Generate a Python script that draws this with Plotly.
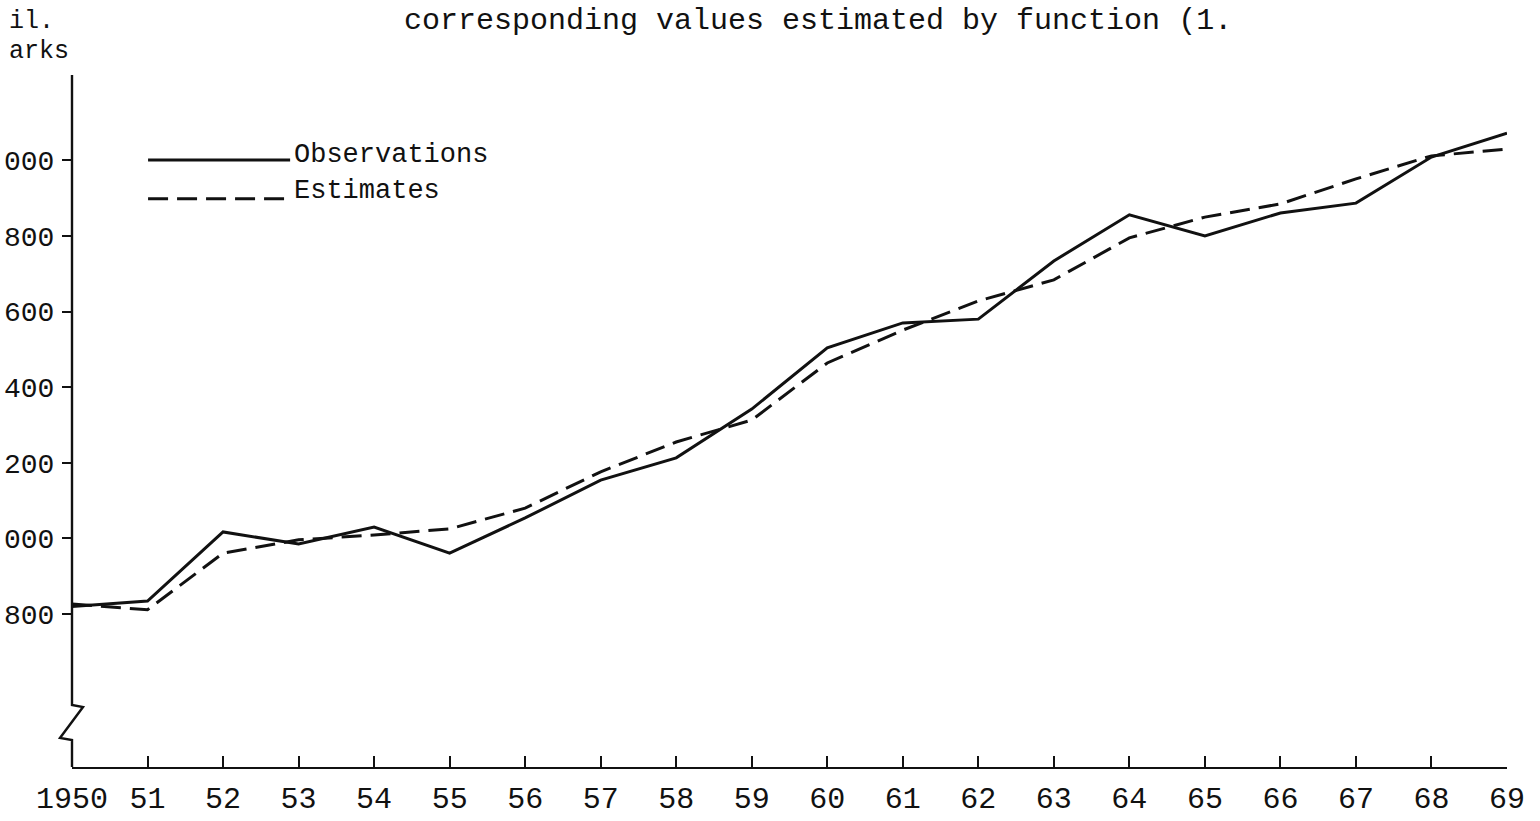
import plotly.graph_objects as go

years = list(range(1950, 1970))
year_labels = ["1950", "51", "52", "53", "54", "55", "56", "57", "58", "59",
               "60", "61", "62", "63", "64", "65", "66", "67", "68", "69"]
observations = [1820, 1834, 2017, 1985, 2030, 1961, 2054, 2154, 2213, 2342,
                2504, 2570, 2580, 2734, 2856, 2800, 2861, 2887, 3009, 3072]
estimates = [1826, 1811, 1961, 1996, 2009, 2025, 2080, 2176, 2255, 2313,
             2464, 2551, 2628, 2684, 2795, 2850, 2885, 2951, 3012, 3030]
y_tick_values = [1800, 2000, 2200, 2400, 2600, 2800, 3000]
y_tick_labels = ["800", "000", "200", "400", "600", "800", "000"]

FONT = "Liberation Mono"
INK = "#111111"

fig = go.Figure()
fig.add_trace(go.Scatter(x=years, y=observations, mode="lines", name="Observations",
                         line=dict(color=INK, width=3), showlegend=False))
fig.add_trace(go.Scatter(x=years, y=estimates, mode="lines", name="Estimates",
                         line=dict(color=INK, width=3, dash="20px,9px"), showlegend=False))

# y axis line with a break (zigzag) near the bottom
fig.add_shape(type="path", xref="paper", yref="paper",
              xsizemode="pixel", ysizemode="pixel", xanchor=0, yanchor=0,
              path="M0,0 L0,27 L-12,29 L11,60 L0,62 L0,692",
              line=dict(color=INK, width=2.4), layer="above")

# custom legend
fig.add_shape(type="line", xref="paper", yref="paper", x0=0.053, x1=0.152, y0=0.877, y1=0.877,
              line=dict(color=INK, width=3))
fig.add_shape(type="line", xref="paper", yref="paper", x0=0.053, x1=0.152, y0=0.821, y1=0.821,
              line=dict(color=INK, width=3, dash="20px,9px"))
fig.add_annotation(text="Observations", xref="paper", yref="paper", x=0.153, y=0.884,
                   xanchor="left", yanchor="middle", showarrow=False,
                   font=dict(family=FONT, size=27, color=INK))
fig.add_annotation(text="Estimates", xref="paper", yref="paper", x=0.153, y=0.832,
                   xanchor="left", yanchor="middle", showarrow=False,
                   font=dict(family=FONT, size=27, color=INK))

# axis unit label (cropped in source)
fig.add_annotation(text="il.", xref="paper", yref="paper", x=-0.045, y=1.078,
                   xanchor="left", yanchor="middle", showarrow=False,
                   font=dict(family=FONT, size=25, color=INK))
fig.add_annotation(text="arks", xref="paper", yref="paper", x=-0.045, y=1.034,
                   xanchor="left", yanchor="middle", showarrow=False,
                   font=dict(family=FONT, size=25, color=INK))

# caption line (cropped at top in source)
fig.add_annotation(text="corresponding values estimated by function (1.",
                   xref="paper", yref="paper", x=0.52, y=1.105,
                   xanchor="center", yanchor="top", showarrow=False,
                   font=dict(family=FONT, size=30, color=INK))

fig.update_xaxes(range=[1950, 1969], tickmode="array", tickvals=years, ticktext=year_labels,
                 showline=True, linecolor=INK, linewidth=2.4, ticks="inside", ticklen=11,
                 tickwidth=2, tickcolor=INK, showgrid=False, zeroline=False,
                 ticklabelstandoff=3,
                 tickfont=dict(family=FONT, size=30, color=INK))
fig.update_yaxes(range=[1395, 3226], tickmode="array", tickvals=y_tick_values,
                 ticktext=y_tick_labels, showline=False, ticks="outside", ticklen=9,
                 tickwidth=2, tickcolor=INK, showgrid=False, zeroline=False,
                 ticklabelstandoff=2,
                 tickfont=dict(family=FONT, size=28, color=INK))

fig.update_layout(width=1540, height=821, margin=dict(l=72, r=33, t=75, b=54, autoexpand=False),
                  paper_bgcolor="white", plot_bgcolor="white")

fig.write_html("out.html", config={"displayModeBar": False},
               post_script="document.body.style.margin='0px';")
